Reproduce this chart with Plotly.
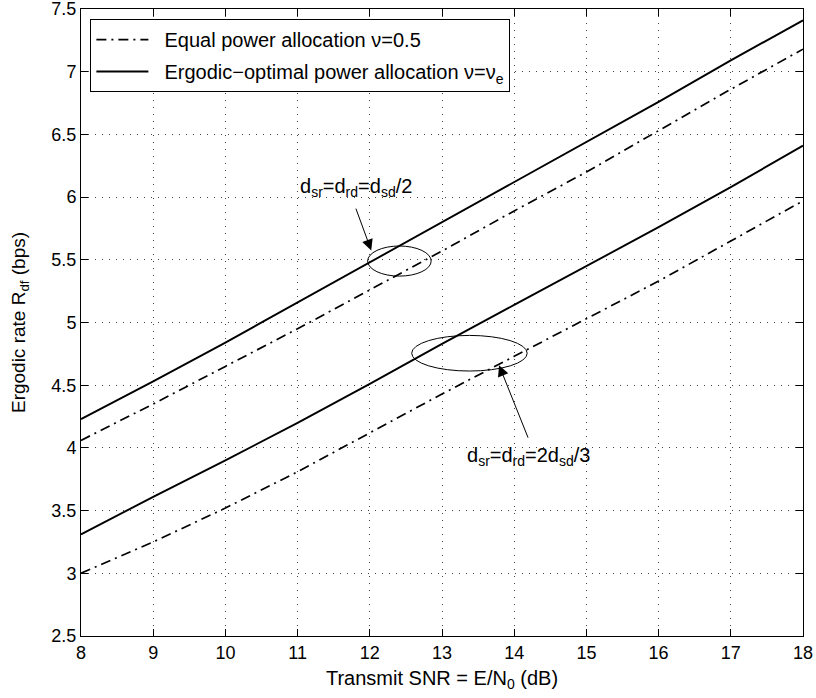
import plotly.graph_objects as go

snr_db = [8, 9, 10, 11, 12, 13, 14, 15, 16, 17, 18]

# d_sr = d_rd = d_sd/2
equal_half = [4.06, 4.35, 4.65, 4.95, 5.26, 5.57, 5.89, 6.20, 6.53, 6.86, 7.18]
ergodic_half = [4.23, 4.53, 4.84, 5.16, 5.48, 5.80, 6.12, 6.44, 6.76, 7.09, 7.41]

# d_sr = d_rd = 2 d_sd/3
equal_twothirds = [3.00, 3.25, 3.52, 3.81, 4.12, 4.43, 4.73, 5.03, 5.33, 5.65, 5.97]
ergodic_twothirds = [3.31, 3.61, 3.90, 4.20, 4.51, 4.83, 5.14, 5.45, 5.76, 6.08, 6.41]

x_ticks = [8, 9, 10, 11, 12, 13, 14, 15, 16, 17, 18]
y_ticks = [2.5, 3, 3.5, 4, 4.5, 5, 5.5, 6, 6.5, 7, 7.5]

legend_equal = "\u00a0\u00a0Equal power allocation \u03bd=0.5"
legend_ergodic = "\u00a0\u00a0Ergodic\u2212optimal power allocation \u03bd=\u03bd<sub>e</sub>"

FONT = "Liberation Sans, Arial, sans-serif"
DASHDOT = "10px,5px,2px,5px"

fig = go.Figure()
fig.add_trace(go.Scatter(x=snr_db, y=equal_half, mode="lines", name=legend_equal,
                         legendgroup="eq", showlegend=True,
                         line=dict(color="black", width=1.7, dash=DASHDOT)))
fig.add_trace(go.Scatter(x=snr_db, y=ergodic_half, mode="lines", name=legend_ergodic,
                         legendgroup="erg", showlegend=True,
                         line=dict(color="black", width=1.9)))
fig.add_trace(go.Scatter(x=snr_db, y=equal_twothirds, mode="lines", name=legend_equal,
                         legendgroup="eq", showlegend=False,
                         line=dict(color="black", width=1.7, dash=DASHDOT)))
fig.add_trace(go.Scatter(x=snr_db, y=ergodic_twothirds, mode="lines", name=legend_ergodic,
                         legendgroup="erg", showlegend=False,
                         line=dict(color="black", width=1.9)))

# ellipses marking curve pairs
ellipse_half = dict(cx=12.41, cy=5.49, rx=0.44, ry=0.12)
ellipse_twothirds = dict(cx=13.38, cy=4.755, rx=0.80, ry=0.142)
for e in (ellipse_half, ellipse_twothirds):
    fig.add_shape(type="circle", xref="x", yref="y",
                  x0=e["cx"] - e["rx"], x1=e["cx"] + e["rx"],
                  y0=e["cy"] - e["ry"], y1=e["cy"] + e["ry"],
                  line=dict(color="black", width=1))

# arrows
fig.add_annotation(x=12.02, y=5.575, ax=11.80, ay=5.92, xref="x", yref="y",
                   axref="x", ayref="y", text="", showarrow=True,
                   arrowhead=2, arrowsize=2.2, arrowwidth=1, arrowcolor="black")
fig.add_annotation(x=13.79, y=4.66, ax=14.20, ay=4.07, xref="x", yref="y",
                   axref="x", ayref="y", text="", showarrow=True,
                   arrowhead=2, arrowsize=2.2, arrowwidth=1, arrowcolor="black")

# labels
fig.add_annotation(x=11.0, y=6.08, xref="x", yref="y", xanchor="left", yanchor="middle",
                   text="d<sub>sr</sub>=d<sub>rd</sub>=d<sub>sd</sub>/2", showarrow=False,
                   font=dict(family=FONT, size=20, color="black"))
fig.add_annotation(x=13.32, y=3.93, xref="x", yref="y", xanchor="left", yanchor="middle",
                   text="d<sub>sr</sub>=d<sub>rd</sub>=2d<sub>sd</sub>/3", showarrow=False,
                   font=dict(family=FONT, size=20, color="black"))

axis_common = dict(
    showline=True, linecolor="black", linewidth=1, mirror="allticks",
    ticks="inside", ticklen=7, tickcolor="black", tickwidth=1,
    showgrid=True, gridcolor="#444", gridwidth=1, griddash="1px,6px",
    zeroline=False, ticklabeloverflow="allow",
    tickfont=dict(family=FONT, size=18, color="black"),
)

fig.update_xaxes(range=[8, 18], tickvals=x_ticks, ticktext=[str(v) for v in x_ticks],
                 title=dict(text="Transmit SNR = E/N<sub>0</sub> (dB)",
                            font=dict(family=FONT, size=20, color="black"), standoff=9),
                 **axis_common)
fig.update_yaxes(range=[2.5, 7.5], tickvals=y_ticks, ticktext=[f"{v:g}" for v in y_ticks],
                 title=dict(text="Ergodic rate R<sub>df</sub> (bps)",
                            font=dict(family=FONT, size=19, color="black"), standoff=20),
                 **axis_common)

fig.update_layout(
    width=816, height=698,
    margin=dict(l=81, r=13, t=9, b=62, autoexpand=False),
    paper_bgcolor="white", plot_bgcolor="white",
    font=dict(family=FONT, color="black"),
    legend=dict(x=0.013, y=0.984, xanchor="left", yanchor="top",
                bgcolor="white", bordercolor="black", borderwidth=1,
                font=dict(family=FONT, size=20, color="black"),
                itemwidth=52, traceorder="grouped", tracegroupgap=3),
)

fig.write_html("out.html")
